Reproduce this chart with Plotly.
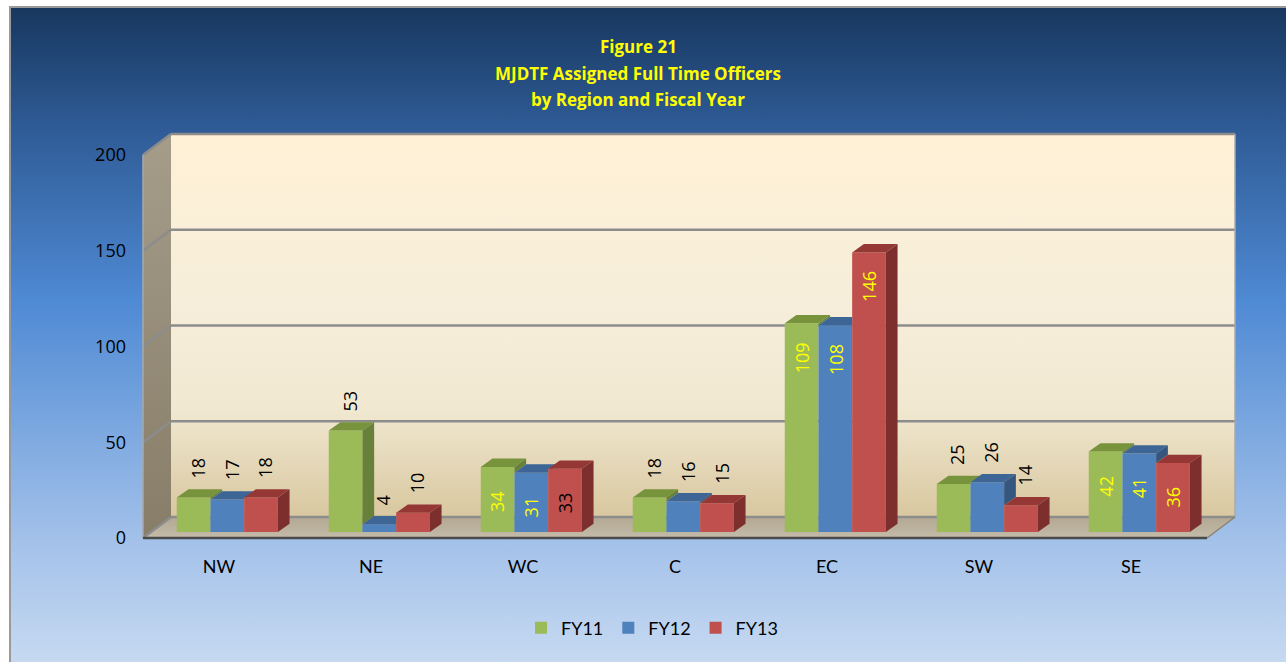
import base64
import plotly.graph_objects as go

# ---------------- data ----------------
regions = ["NW", "NE", "WC", "C", "EC", "SW", "SE"]
series_names = ["FY11", "FY12", "FY13"]
fy11 = [18, 53, 34, 18, 109, 25, 42]
fy12 = [17, 4, 31, 16, 108, 26, 41]
fy13 = [18, 10, 33, 15, 146, 14, 36]
y_ticks = [0, 50, 100, 150, 200]
title_lines = ["Figure 21", "MJDTF Assigned Full Time Officers", "by Region and Fiscal Year"]

series = [fy11, fy12, fy13]

# ---------------- styles ----------------
front_col = ["#9BBB59", "#4F81BD", "#C0504D"]
top_col = ["#77933C", "#3D6595", "#953735"]
side_col = ["#67803A", "#34567F", "#7D2F2D"]
inside_regions = {"WC", "EC", "SE"}
black_inside = {("WC", 2)}

W, H = 1286, 662
ML, MR, MT, MB = 141, 46, 130, 122
PW, PH = W - ML - MR, H - MT - MB
PX_CAT = 152.0          # pixels per category
PX_VAL = 1.915          # pixels per unit
x0 = -0.5 - 2 / PX_CAT
x1 = x0 + PW / PX_CAT
y0 = -2 / PX_VAL
y1 = y0 + PH / PX_VAL

WALL_DX, WALL_DY = 28 / PX_CAT, 21 / PX_VAL
ROW_DX, ROW_DY = 8.3 / PX_CAT, 6 / PX_VAL
BAR_W = 33.7 / PX_CAT
BDX, BDY = 11.7 / PX_CAT, 8.3 / PX_VAL
YMAX = y_ticks[-1]
NCAT = len(regions)


def svg_uri(svg):
    return "data:image/svg+xml;base64," + base64.b64encode(svg.encode()).decode()


def grad(stops):
    s = "".join(f'<stop offset="{o}" stop-color="{c}"/>' for o, c in stops)
    return f'<defs><linearGradient id="g" x1="0" y1="0" x2="0" y2="1">{s}</linearGradient></defs>'


fig = go.Figure()

# ---------------- bars (front faces) ----------------
for k, vals in enumerate(series):
    fig.add_trace(go.Bar(
        x=[i + ROW_DX for i in range(NCAT)], y=vals, base=ROW_DY,
        width=BAR_W, offset=(k - 1.5) * BAR_W,
        name=series_names[k], marker=dict(color=front_col[k], line=dict(width=0)),
        hoverinfo="skip"))

# ---------------- 3D top / side faces ----------------
for i in range(NCAT):
    for k, vals in enumerate(series):
        xl = i + ROW_DX + (k - 1.5) * BAR_W
        xr = xl + BAR_W
        b = ROW_DY
        T = b + vals[i]
        nT = b + series[k + 1][i] if k < 2 else None
        if nT is None or nT <= T:
            pts = [(xl, T), (xr, T), (xr + BDX, T + BDY), (xl + BDX, T + BDY)]
        elif nT >= T + BDY:
            pts = [(xl, T), (xr, T), (xr, T + BDY), (xl + BDX, T + BDY)]
        else:
            f = (nT - T) / BDY
            pts = [(xl, T), (xr, T), (xr, nT), (xr + f * BDX, nT), (xr + BDX, T + BDY), (xl + BDX, T + BDY)]
        faces = [(pts, top_col[k])]
        Hl = b if nT is None else max(b, nT)
        if Hl < T:
            faces.append(([(xr, Hl), (xr, T), (xr + BDX, T + BDY), (xr + BDX, Hl + BDY)], side_col[k]))
        for p, c in faces:
            fig.add_trace(go.Scatter(
                x=[q[0] for q in p] + [p[0][0]], y=[q[1] for q in p] + [p[0][1]],
                mode="lines", fill="toself", fillcolor=c, line=dict(width=0),
                showlegend=False, hoverinfo="skip"))

# ---------------- data labels ----------------
annotations = []
for i, r in enumerate(regions):
    for k, vals in enumerate(series):
        xc = i + ROW_DX + (k - 1.0) * BAR_W
        v = vals[i]
        if r in inside_regions:
            col = "#000000" if (r, k) in black_inside else "#FFFF00"
            annotations.append(dict(x=xc, y=ROW_DY + v - 18, xref="x", yref="y", text=str(v),
                                    textangle=-90, showarrow=False, xanchor="center", yanchor="middle",
                                    font=dict(family="Open Sans", size=18, color=col)))
        else:
            annotations.append(dict(x=xc + 0.35 * BDX, y=ROW_DY + v + 9, xref="x", yref="y", text=str(v),
                                    textangle=-90, showarrow=False, xanchor="center", yanchor="bottom",
                                    font=dict(family="Open Sans", size=18, color="#000000")))

# ---------------- title ----------------
for j, (t, ypx) in enumerate(zip(title_lines, [46, 73, 100])):
    annotations.append(dict(x=(638 - ML) / PW, y=(MT + PH - ypx) / PH, xref="paper", yref="paper",
                            text=f"<b>{t}</b>", showarrow=False, xanchor="center", yanchor="middle",
                            font=dict(family="Open Sans", size=17, color="#FFFF00")))

# ---------------- background pictures ----------------
bw, bh = W - 9, H - 6
outer_svg = (f'<svg xmlns="http://www.w3.org/2000/svg" width="{bw}" height="{bh}" viewBox="0 0 {bw} {bh}" preserveAspectRatio="none">'
             + grad([(0, "#17375E"), (0.19, "#2F5C97"), (0.45, "#4F8AD4"), (0.82, "#A4C2EA"), (1, "#C6D9F1")])
             + f'<rect width="{bw}" height="{bh}" fill="url(#g)"/>'
             + f'<path d="M1 {bh} V1 H{bw}" stroke="#9a9a9a" stroke-width="2" fill="none"/></svg>')

back_svg = ('<svg xmlns="http://www.w3.org/2000/svg" width="100" height="100" viewBox="0 0 100 100" preserveAspectRatio="none">'
            + grad([(0, "#FFF1D6"), (0.45, "#F6EEDA"), (0.72, "#F1E8D1"), (1, "#D8C79F")])
            + '<rect width="100" height="100" fill="url(#g)"/></svg>')

fr = WALL_DY / (YMAX + WALL_DY) * 100
side_svg = ('<svg xmlns="http://www.w3.org/2000/svg" width="100" height="100" viewBox="0 0 100 100" preserveAspectRatio="none">'
            + grad([(0, "#A59C8A"), (1, "#877D68")])
            + f'<polygon points="0,{fr} 100,0 100,{100 - fr} 0,100" fill="url(#g)"/></svg>')

fx = WALL_DX / (NCAT + WALL_DX) * 100
floor_svg = ('<svg xmlns="http://www.w3.org/2000/svg" width="100" height="100" viewBox="0 0 100 100" preserveAspectRatio="none">'
             + grad([(0, "#B2A892"), (1, "#C4BBA9")])
             + f'<polygon points="0,100 {100 - fx},100 100,0 {fx},0" fill="url(#g)"/></svg>')

images = [
    dict(source=svg_uri(outer_svg), xref="paper", yref="paper", x=(9 - ML) / PW, y=(MT + PH - 6) / PH,
         sizex=bw / PW, sizey=bh / PH, xanchor="left", yanchor="top", sizing="stretch", layer="below"),
    dict(source=svg_uri(back_svg), xref="x", yref="y", x=-0.5 + WALL_DX, y=YMAX + WALL_DY,
         sizex=NCAT, sizey=YMAX, xanchor="left", yanchor="top", sizing="stretch", layer="below"),
    dict(source=svg_uri(side_svg), xref="x", yref="y", x=-0.5, y=YMAX + WALL_DY,
         sizex=WALL_DX, sizey=YMAX + WALL_DY, xanchor="left", yanchor="top", sizing="stretch", layer="below"),
    dict(source=svg_uri(floor_svg), xref="x", yref="y", x=-0.5, y=WALL_DY,
         sizex=NCAT + WALL_DX, sizey=WALL_DY, xanchor="left", yanchor="top", sizing="stretch", layer="below"),
]

# ---------------- wall lines ----------------
shapes = []
gl = dict(color="#8C8C8C", width=2.5)
LAY = "between"
for v in y_ticks:
    shapes.append(dict(type="line", xref="x", yref="y", x0=-0.5 + WALL_DX, x1=NCAT - 0.5 + WALL_DX,
                       y0=v + WALL_DY, y1=v + WALL_DY, line=gl, layer=LAY))
    shapes.append(dict(type="line", xref="x", yref="y", x0=-0.5, x1=-0.5 + WALL_DX,
                       y0=v, y1=v + WALL_DY, line=gl, layer=LAY))
shapes.append(dict(type="line", xref="x", yref="y", x0=NCAT - 0.5 + WALL_DX, x1=NCAT - 0.5 + WALL_DX,
                   y0=WALL_DY, y1=YMAX + WALL_DY, line=dict(color="#A8A8A8", width=1.5), layer=LAY))
shapes.append(dict(type="line", xref="x", yref="y", x0=-0.5, x1=-0.5, y0=0, y1=YMAX,
                   line=dict(color="#A8A8A8", width=1.5), layer=LAY))
shapes.append(dict(type="line", xref="x", yref="y", x0=NCAT - 0.5, x1=NCAT - 0.5 + WALL_DX,
                   y0=0, y1=WALL_DY, line=dict(color="#8A8474", width=1.5), layer=LAY))
shapes.append(dict(type="line", xref="x", yref="y", x0=-0.5, x1=NCAT - 0.5, y0=0, y1=0,
                   line=dict(color="#4A4A4A", width=2.5), layer=LAY))

fig.update_layout(
    width=W, height=H, autosize=False,
    margin=dict(l=ML, r=MR, t=MT, b=MB, pad=0),
    paper_bgcolor="#FFFFFF", plot_bgcolor="rgba(0,0,0,0)",
    barmode="overlay",
    xaxis=dict(range=[x0, x1], tickvals=list(range(NCAT)), ticktext=regions, showgrid=False,
               zeroline=False, showline=False, ticks="", ticklabelstandoff=14,
               tickfont=dict(family="Lato", size=18, color="#000000"), fixedrange=True),
    yaxis=dict(range=[y0, y1], tickvals=y_ticks, showgrid=False, zeroline=False, showline=False,
               ticks="", ticklabelstandoff=14,
               tickfont=dict(family="Open Sans", size=18, color="#000000"), fixedrange=True),
    legend=dict(orientation="h", x=(652 - ML) / PW, xanchor="center", y=(MT + PH - 628) / PH,
                yanchor="middle", bgcolor="rgba(0,0,0,0)",
                font=dict(family="Lato", size=18, color="#000000"), itemwidth=30),
    annotations=annotations, images=images, shapes=shapes, showlegend=True,
)

fig.write_html("out.html", config={"displayModeBar": False},
               post_script="document.body.style.margin='0px';document.body.style.overflow='hidden';")
